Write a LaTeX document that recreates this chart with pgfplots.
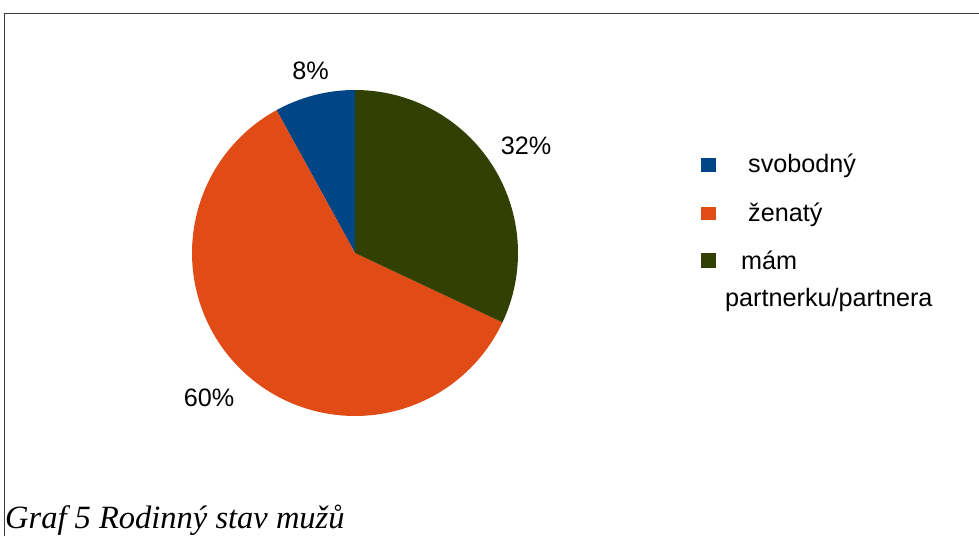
\documentclass[border=0pt]{standalone}
\usepackage{pgfplots}
\usepackage{pgfplotstable}
\pgfplotsset{compat=1.18}
\usepackage{fontspec}
\setmainfont{Liberation Sans}
\newfontfamily\capfont{Liberation Serif}
\definecolor{cBlue}{RGB}{0,69,134}
\definecolor{cOrange}{RGB}{224,75,22}
\definecolor{cGreen}{RGB}{50,64,4}
\definecolor{cFrame}{RGB}{60,60,60}
\pgfplotstableread{
label value
svobodny 8
zenaty 60
partner 32
}\piedata
\begin{document}
\begin{tikzpicture}
\pgfplotstablegetelem{0}{value}\of\piedata \let\va\pgfplotsretval
\pgfplotstablegetelem{1}{value}\of\piedata \let\vb\pgfplotsretval
\pgfplotstablegetelem{2}{value}\of\piedata \let\vc\pgfplotsretval
\pgfmathsetmacro\aA{90}
\pgfmathsetmacro\aB{\aA+3.6*\va}
\pgfmathsetmacro\aC{\aB+3.6*\vb}
\pgfmathsetmacro\aD{\aC+3.6*\vc}
\begin{axis}[x=1pt,y=1pt,xmin=0,xmax=979,ymin=0,ymax=536,hide axis,clip=false,
  anchor=origin, at={(0,0)}]
\addplot[fill=cBlue, draw=none, domain=\aA:\aB, samples=40] ({355+163*cos(x)},{283+163*sin(x)}) -- (axis cs:355,283) -- cycle;
\addplot[fill=cOrange, draw=none, domain=\aB:\aC, samples=120] ({355+163*cos(x)},{283+163*sin(x)}) -- (axis cs:355,283) -- cycle;
\addplot[fill=cGreen, draw=none, domain=\aC:\aD, samples=80] ({355+163*cos(x)},{283+163*sin(x)}) -- (axis cs:355,283) -- cycle;
\draw[cFrame, line width=1pt] (axis cs:4,0) -- (axis cs:4,522.5) -- (axis cs:979,522.5);
\node[font=\fontsize{25.2}{28}\selectfont, anchor=base, inner sep=0] at (axis cs:310.5,456) {8\%};
\node[font=\fontsize{25.2}{28}\selectfont, anchor=base, inner sep=0] at (axis cs:526,381) {32\%};
\node[font=\fontsize{25.2}{28}\selectfont, anchor=base, inner sep=0] at (axis cs:209,130) {60\%};
\fill[cBlue] (axis cs:701,364) rectangle (axis cs:716,378);
\fill[cOrange] (axis cs:701,316) rectangle (axis cs:716,329);
\fill[cGreen] (axis cs:701,268) rectangle (axis cs:716,283);
\node[font=\fontsize{25.2}{28}\selectfont, anchor=base west, inner sep=0] at (axis cs:748,363) {svobodný};
\node[font=\fontsize{25.2}{28}\selectfont, anchor=base west, inner sep=0] at (axis cs:748,314) {ženatý};
\node[font=\fontsize{25.2}{28}\selectfont, anchor=base west, inner sep=0] at (axis cs:741,266) {mám};
\node[font=\fontsize{25.2}{28}\selectfont, anchor=base west, inner sep=0] at (axis cs:725,229) {partnerku/partnera};
\node[font=\capfont\itshape\fontsize{32.5}{36}\selectfont, anchor=base west, inner sep=0] at (axis cs:5,8) {Graf 5 Rodinný stav mužů};
\end{axis}
\pgfresetboundingbox
\path (0,0) rectangle (979pt,536pt);
\end{tikzpicture}
\end{document}
